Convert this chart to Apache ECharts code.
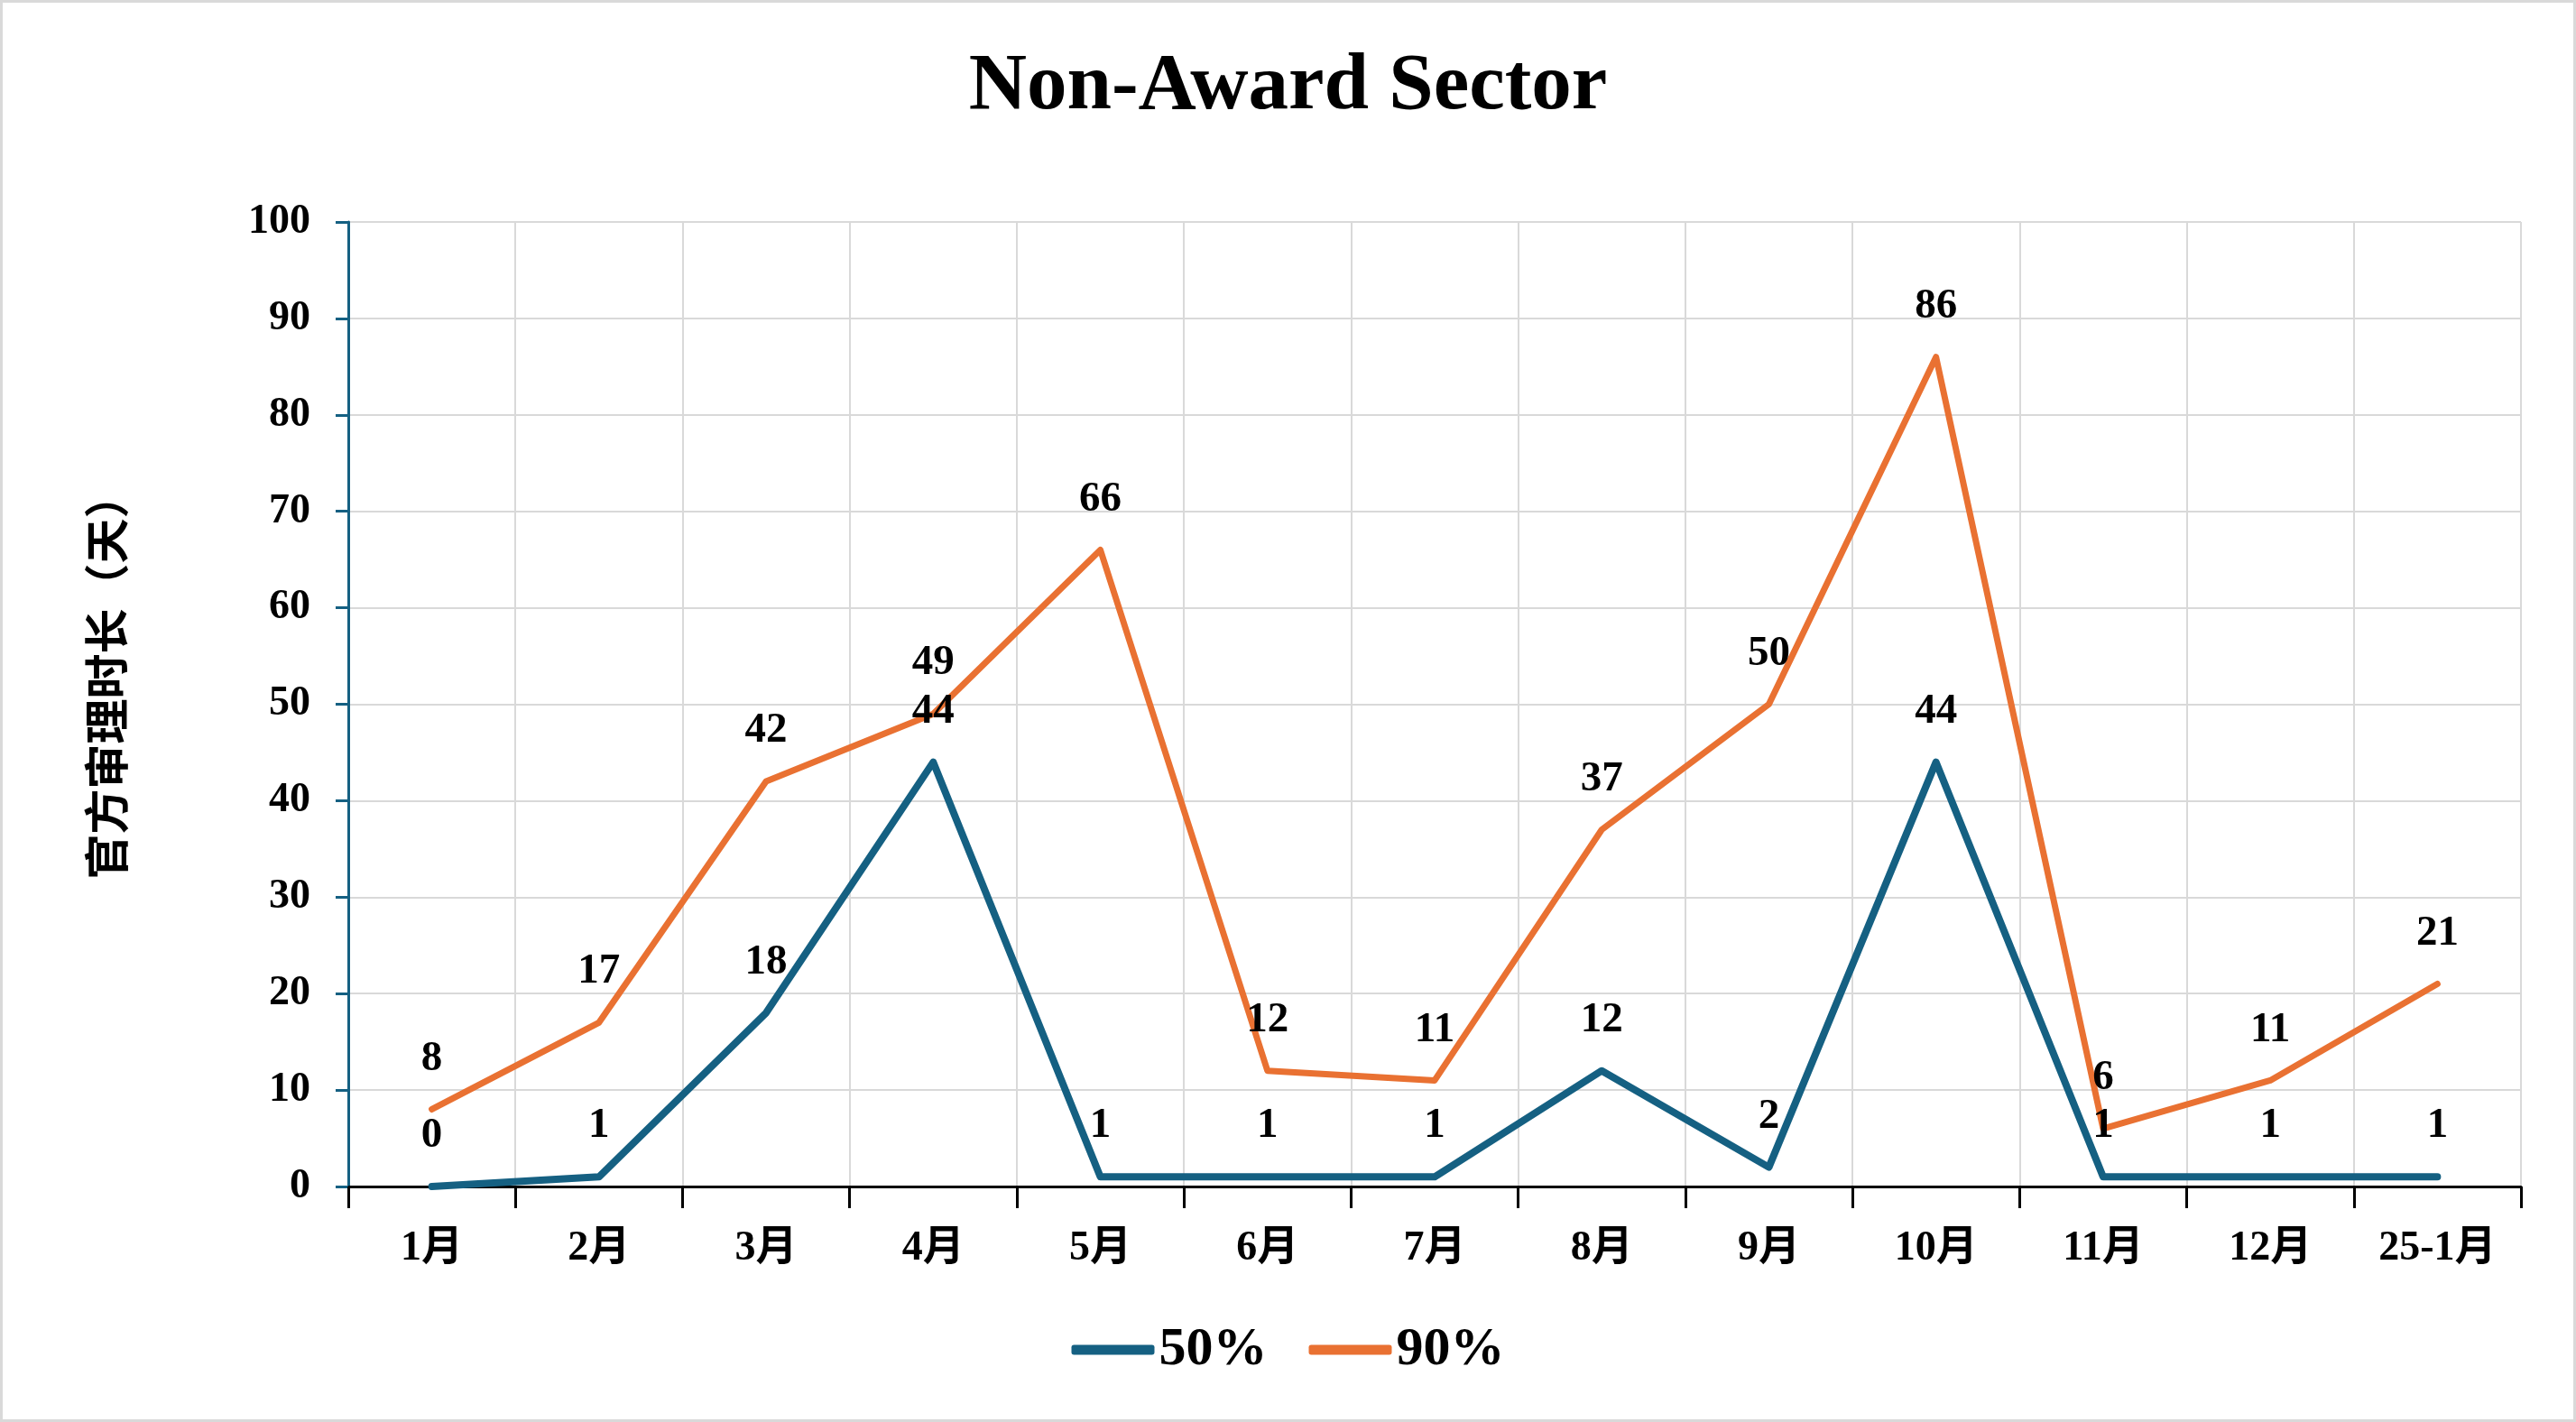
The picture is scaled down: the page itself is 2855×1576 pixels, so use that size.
<!DOCTYPE html>
<html>
<head>
<meta charset="utf-8">
<script src="https://cdn.jsdelivr.net/npm/echarts@6/dist/echarts.min.js"></script>
<style>
html,body{margin:0;padding:0;background:#fff;}
#c{width:2855px;height:1576px;box-sizing:border-box;border:3px solid #d9d9d9;}
</style>
</head>
<body>
<div id="c"></div>
<script>
const categories = ['1月','2月','3月','4月','5月','6月','7月','8月','9月','10月','11月','12月','25-1月'];
const p50 = [0,1,18,44,1,1,1,12,2,44,1,1,1];
const p90 = [8,17,42,49,66,12,11,37,50,86,6,11,21];
const yTicks = {min:0, max:100, interval:10};

const serif = '"Liberation Serif","Times New Roman","Noto Sans CJK SC",serif';
const chart = echarts.init(document.getElementById('c'));
const labelCfg = {show:true, position:'top', distance:32, fontFamily:serif, fontWeight:'bold', fontSize:47, color:'#000'};
chart.setOption({
  animation:false,
  title:{text:'Non-Award Sector', left:'center', top:45, textStyle:{fontFamily:serif, fontWeight:'bold', fontSize:89, color:'#000'}},
  legend:{bottom:42, left:'center', itemWidth:92, itemHeight:11, itemGap:46,
    textStyle:{fontFamily:serif, fontWeight:'bold', fontSize:60, color:'#000'},
    data:[{name:'50%', icon:'roundRect', itemStyle:{color:'#156082'}},
          {name:'90%', icon:'roundRect', itemStyle:{color:'#E97132'}}]},
  grid:{left:383, right:58, top:243, bottom:258, containLabel:false},
  xAxis:{type:'category', data:categories, boundaryGap:true,
    axisLine:{lineStyle:{color:'#000', width:3}},
    axisTick:{show:true, length:24, lineStyle:{color:'#000', width:3}},
    axisLabel:{margin:46, fontFamily:serif, fontWeight:'bold', fontSize:46, color:'#000'},
    splitLine:{show:true, lineStyle:{color:'#d9d9d9', width:2}}},
  yAxis:{type:'value', min:yTicks.min, max:yTicks.max, interval:yTicks.interval,
    name:'官方审理时长（天）', nameLocation:'middle', nameGap:243, nameRotate:90,
    nameTextStyle:{fontFamily:'"Noto Sans CJK SC",sans-serif', fontWeight:'bold', fontSize:50, color:'#000', padding:[0,0,0,62]},
    axisLine:{show:true, lineStyle:{color:'#156082', width:3}},
    axisTick:{show:true, length:14, lineStyle:{color:'#156082', width:3}},
    axisLabel:{margin:42, fontFamily:serif, fontWeight:'bold', fontSize:46, color:'#000'},
    splitLine:{show:true, lineStyle:{color:'#d9d9d9', width:2}}},
  series:[
    {name:'50%', type:'line', data:p50, symbol:'circle', symbolSize:1, showSymbol:true,
      itemStyle:{color:'rgba(0,0,0,0)'},
      lineStyle:{width:8, color:'#156082', cap:'round', join:'round'}, label:labelCfg, z:3},
    {name:'90%', type:'line', data:p90, symbol:'circle', symbolSize:1, showSymbol:true,
      itemStyle:{color:'rgba(0,0,0,0)'},
      lineStyle:{width:7, color:'#E97132', cap:'round', join:'round'}, label:labelCfg, z:2}
  ]
});
</script>
</body>
</html>
